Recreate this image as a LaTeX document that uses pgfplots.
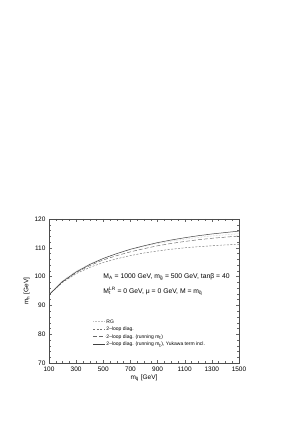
\documentclass[border=0pt]{standalone}
\usepackage{pgfplots}
\pgfplotsset{compat=1.18}
\usepackage{fontspec}
\setmainfont{Liberation Sans}
\newcommand{\sub}[1]{\textsubscript{#1}}
\begin{document}
\begin{tikzpicture}
\useasboundingbox (0,0) rectangle (289pt,436pt);
\begin{axis}[
  scale only axis, width=190pt, height=144pt,
  at={(49pt,73pt)}, anchor=south west,
  xmin=100, xmax=1500, ymin=70, ymax=120,
  xtick={100,300,...,1500}, ytick={70,80,...,120},
  minor x tick num=3, minor y tick num=4,
  tick align=inside, major tick length=3pt, minor tick length=1.6pt,
  tick style={black!60, line width=0.3pt},
  axis line style={black!70, line width=0.4pt},
  /pgf/number format/assume math mode=true,
  /pgf/number format/1000 sep={},
  tick label style={font=\fontsize{6.5}{7}\selectfont},
  xlabel={m\sub{\~q} [GeV]}, ylabel={m\sub{h} [GeV]},
  label style={font=\fontsize{6.5}{7}\selectfont},
  xlabel style={yshift=3pt}, ylabel style={yshift=-2pt},
  legend style={draw=none, fill=none, at={(0.216,0.330)}, anchor=north west,
    font=\fontsize{5}{6}\selectfont,
    nodes={inner sep=0.75pt, text height=4.6pt, text depth=1.5pt}},
  legend cell align=left,
  legend image code/.code={\draw[#1] (0pt,0pt) -- (12pt,0pt);},
]
\addplot[black!25, densely dotted, line width=0.5pt] coordinates {
(100,93.8)(200,98.6)(300,101.9)(400,104.4)(500,106.4)(600,108.0)(700,109.4)(800,110.5)
(900,111.5)(1000,112.3)(1100,113.0)(1200,113.6)(1300,114.1)(1400,114.5)(1500,114.9)};
\addlegendentry{RG}
\addplot[black!55, dash pattern=on 2pt off 1.5pt, line width=0.45pt] coordinates {
(100,93.7)(200,98.0)(300,101.0)(400,103.2)(500,104.9)(600,106.2)(700,107.3)(800,108.2)
(900,108.9)(1000,109.5)(1100,110.0)(1200,110.4)(1300,110.7)(1400,111.0)(1500,111.2)};
\addlegendentry{2--loop diag.}
\addplot[black!60, dash pattern=on 4pt off 2pt, line width=0.45pt] coordinates {
(100,93.7)(200,98.2)(300,101.4)(400,103.8)(500,105.8)(600,107.3)(700,108.6)(800,109.7)
(900,110.7)(1000,111.5)(1100,112.2)(1200,112.8)(1300,113.3)(1400,113.7)(1500,114.1)};
\addlegendentry{2--loop diag. (running m\sub{t})}
\addplot[black!75, line width=0.5pt] coordinates {
(100,93.7)(200,98.3)(300,101.6)(400,104.2)(500,106.3)(600,108.0)(700,109.5)(800,110.7)
(900,111.8)(1000,112.7)(1100,113.5)(1200,114.2)(1300,114.8)(1400,115.3)(1500,115.8)};
\addlegendentry{2--loop diag. (running m\sub{t}), Yukawa term incl.}
\node[anchor=west, font=\fontsize{6.8}{8}\selectfont, inner sep=0pt] at (axis cs:500,99.9)
  {M\sub{A} = 1000 GeV, m\sub{\~g} = 500 GeV, tanβ = 40};
\node[anchor=west, font=\fontsize{6.8}{8}\selectfont, inner sep=0pt] at (axis cs:500,95)
  {M\rlap{\sub{t}}\textsuperscript{LR} = 0 GeV, μ = 0 GeV, M = m\sub{\~q}};
\end{axis}
\end{tikzpicture}
\end{document}
